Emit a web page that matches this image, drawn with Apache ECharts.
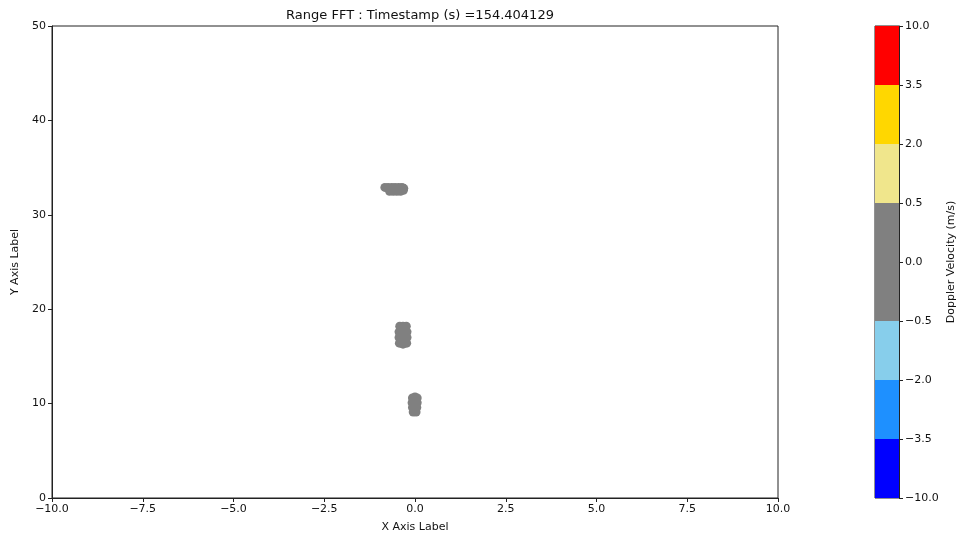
<!DOCTYPE html>
<html>
<head>
<meta charset="utf-8">
<script src="https://cdn.jsdelivr.net/npm/echarts@6/dist/echarts.min.js"></script>
<style>
  html, body { margin: 0; padding: 0; background: #fff; }
  #chart { width: 958px; height: 538px; }
</style>
</head>
<body>
<div id="chart"></div>
<script>
  // points: [x, y, doppler velocity]
  var pointsFar = [
    [-0.83, 32.9, 0.1], [-0.74, 32.9, 0.0], [-0.64, 32.9, -0.1], [-0.55, 32.9, 0.2],
    [-0.45, 32.9, 0.0], [-0.36, 32.9, -0.2], [-0.31, 32.8, 0.1],
    [-0.70, 32.5, 0.0], [-0.60, 32.5, 0.1], [-0.50, 32.5, -0.1], [-0.40, 32.5, 0.0], [-0.32, 32.6, 0.2]
  ];
  var pointsMid = [
    [-0.42, 18.2, 0.0], [-0.33, 18.2, 0.1], [-0.24, 18.2, -0.1],
    [-0.44, 17.6, 0.2], [-0.33, 17.6, 0.0], [-0.22, 17.6, -0.2],
    [-0.44, 17.0, 0.1], [-0.33, 17.0, 0.0], [-0.22, 17.0, 0.1],
    [-0.43, 16.4, -0.1], [-0.33, 16.3, 0.0], [-0.23, 16.4, 0.2]
  ];
  var pointsNear = [
    [-0.07, 10.6, 0.0], [0.0, 10.7, 0.1], [0.06, 10.6, -0.1],
    [-0.08, 10.1, 0.2], [0.0, 10.1, 0.0], [0.06, 10.1, -0.2],
    [-0.07, 9.6, 0.1], [0.0, 9.6, 0.0], [0.05, 9.6, 0.1],
    [-0.05, 9.1, -0.1], [0.03, 9.1, 0.0]
  ];

  // colorbar
  var cbBounds = [-10.0, -3.5, -2.0, -0.5, 0.0, 0.5, 2.0, 3.5, 10.0];
  var cbColors = ['#0000ff', '#1e90ff', '#87ceeb', '#808080', '#808080', '#f0e68c', '#ffd700', '#ff0000'];

  var xTicks = [-10, -7.5, -5, -2.5, 0, 2.5, 5, 7.5, 10];
  var yTicks = [0, 10, 20, 30, 40, 50];

  var titleText = 'Range FFT : Timestamp (s) =154.404129';
  var font = 'DejaVu Sans';

  function minus(s) { return String(s).replace('-', '\u2212'); }

  function colorFor(v) {
    for (var i = 0; i < cbColors.length; i++) {
      if (v >= cbBounds[i] && v < cbBounds[i + 1]) return cbColors[i];
    }
    return cbColors[cbColors.length - 1];
  }

  var allPoints = pointsFar.concat(pointsMid, pointsNear);

  var cbSeries = cbColors.map(function (c, i) {
    return {
      type: 'bar',
      xAxisIndex: 1,
      yAxisIndex: 1,
      stack: 'cb',
      barWidth: '100%',
      silent: true,
      itemStyle: { color: c },
      data: [1]
    };
  });

  var chart = echarts.init(document.getElementById('chart'));
  chart.setOption({
    animation: false,
    textStyle: { fontFamily: font },
    title: {
      text: titleText,
      left: 415,
      textAlign: 'center',
      top: 4,
      textStyle: { fontFamily: font, fontSize: 13, fontWeight: 'normal', color: '#111' }
    },
    grid: [
      { left: 52, top: 26, width: 726, height: 472, show: true, borderColor: '#222', borderWidth: 1 },
      { left: 875, top: 26, width: 24, height: 472, show: true, borderColor: '#222', borderWidth: 1 }
    ],
    xAxis: [{
      type: 'value',
      gridIndex: 0,
      min: xTicks[0],
      max: xTicks[xTicks.length - 1],
      interval: 2.5,
      name: 'X Axis Label',
      nameLocation: 'middle',
      nameGap: 24,
      nameTextStyle: { fontSize: 11, color: '#111' },
      axisLine: { onZero: false, lineStyle: { color: '#222' } },
      axisTick: { length: 4, lineStyle: { color: '#222' } },
      splitLine: { show: false },
      axisLabel: {
        fontSize: 11, color: '#111', margin: 6,
        formatter: function (v) { return minus(v.toFixed(1)); }
      }
    }, {
      type: 'category',
      gridIndex: 1,
      data: ['cb'],
      show: false
    }],
    yAxis: [{
      type: 'value',
      gridIndex: 0,
      min: yTicks[0],
      max: yTicks[yTicks.length - 1],
      interval: 10,
      name: 'Y Axis Label',
      nameLocation: 'middle',
      nameGap: 28,
      nameTextStyle: { fontSize: 11, color: '#111' },
      axisLine: { show: true, onZero: false, lineStyle: { color: '#222' } },
      axisTick: { show: true, length: 4, lineStyle: { color: '#222' } },
      splitLine: { show: false },
      axisLabel: { fontSize: 11, color: '#111', margin: 6 }
    }, {
      type: 'value',
      gridIndex: 1,
      position: 'right',
      min: 0,
      max: cbColors.length,
      interval: 1,
      name: 'Doppler Velocity (m/s)',
      nameLocation: 'middle',
      nameRotate: 90,
      nameGap: 47,
      nameTextStyle: { fontSize: 11, color: '#111' },
      axisLine: { show: true, onZero: false, lineStyle: { color: '#222' } },
      axisTick: { show: true, length: 4, lineStyle: { color: '#222' } },
      splitLine: { show: false },
      axisLabel: {
        fontSize: 11, color: '#111', margin: 6,
        formatter: function (v) { return minus(cbBounds[v].toFixed(1)); }
      }
    }],
    series: [{
      type: 'scatter',
      xAxisIndex: 0,
      yAxisIndex: 0,
      symbolSize: 9,
      itemStyle: {
        opacity: 1,
        color: function (p) { return colorFor(p.data[2]); }
      },
      data: allPoints
    }].concat(cbSeries)
  });
</script>
</body>
</html>
